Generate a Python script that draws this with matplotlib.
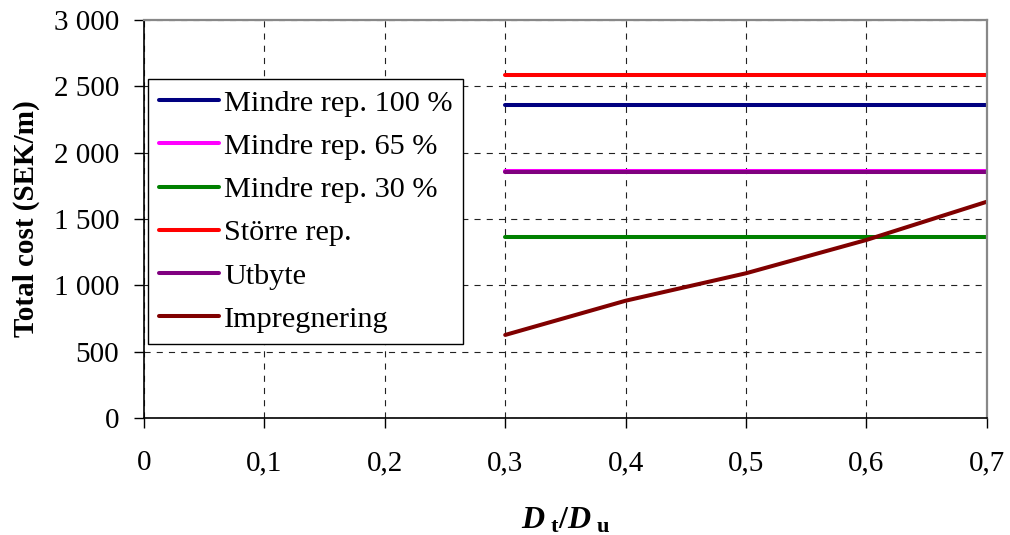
import numpy as np
import matplotlib
matplotlib.use('agg')
import matplotlib.pyplot as plt
from matplotlib.ticker import FuncFormatter

plt.rcParams['font.family'] = 'Liberation Serif'
plt.rcParams['mathtext.fontset'] = 'custom'
plt.rcParams['mathtext.rm'] = 'Liberation Serif:bold'
plt.rcParams['mathtext.it'] = 'Liberation Serif:bold:italic'
plt.rcParams['mathtext.bf'] = 'Liberation Serif:bold'

x = [0.3, 0.4, 0.5, 0.6, 0.7]
mindre_100 = [2360, 2360, 2360, 2360, 2360]
mindre_65 = [1860, 1860, 1860, 1860, 1860]
mindre_30 = [1362, 1362, 1362, 1362, 1362]
storre = [2585, 2585, 2585, 2585, 2585]
utbyte = [1853, 1853, 1853, 1853, 1853]
impregnering = [626, 884, 1091, 1342, 1630]

series = [
    ('Mindre rep. 100 %', mindre_100, '#000080'),
    ('Mindre rep. 65 %', mindre_65, '#ff00ff'),
    ('Mindre rep. 30 %', mindre_30, '#008000'),
    ('Större rep.', storre, '#ff0000'),
    ('Utbyte', utbyte, '#800080'),
    ('Impregnering', impregnering, '#800000'),
]

fig = plt.figure(figsize=(10.1, 5.35), dpi=100)
ax = fig.add_axes([0.1426, 0.2187, 0.8344, 0.7439])

for label, vals, col in series:
    ax.plot(x, vals, color=col, lw=2.9, label=label, solid_capstyle='round')

ax.set_xlim(0, 0.7)
ax.set_ylim(0, 3000)
ax.set_xticks(np.arange(0, 0.71, 0.1))
ax.set_yticks(np.arange(0, 3001, 500))
ax.xaxis.set_major_formatter(FuncFormatter(
    lambda v, p: '0' if abs(v) < 1e-9 else ('%.1f' % v).replace('.', ',')))
ax.yaxis.set_major_formatter(FuncFormatter(
    lambda v, p: '{:,}'.format(int(round(v))).replace(',', ' ')))

ax.grid(True, color='#222222', lw=0.8, linestyle=(0, (5.5, 5.5)))
ax.set_axisbelow(True)

ax.tick_params(axis='both', labelsize=21, direction='out', length=7, width=1)
ax.tick_params(axis='x', pad=16)
ax.tick_params(axis='y', pad=11)

for s in ['left', 'bottom']:
    ax.spines[s].set_color('black')
    ax.spines[s].set_linewidth(1.2)
for s in ['top', 'right']:
    ax.spines[s].set_color('#888888')
    ax.spines[s].set_linewidth(1.6)

ax.set_ylabel('Total cost (SEK/m)', fontsize=21, fontweight='bold', labelpad=10)
ax.set_xlabel(r'$D_{\ \mathrm{t}}/D_{\ \mathrm{u}}$', fontsize=23, labelpad=22)

leg = ax.legend(loc='upper left', bbox_to_anchor=(0.005, 0.852), fontsize=21.8,
                frameon=True, fancybox=False, framealpha=1, edgecolor='black',
                handlelength=2.0, handletextpad=0.15, labelspacing=0.53,
                borderpad=0.35, borderaxespad=0)
leg.get_frame().set_linewidth(1.0)

fig.savefig('out.png', dpi=100)
